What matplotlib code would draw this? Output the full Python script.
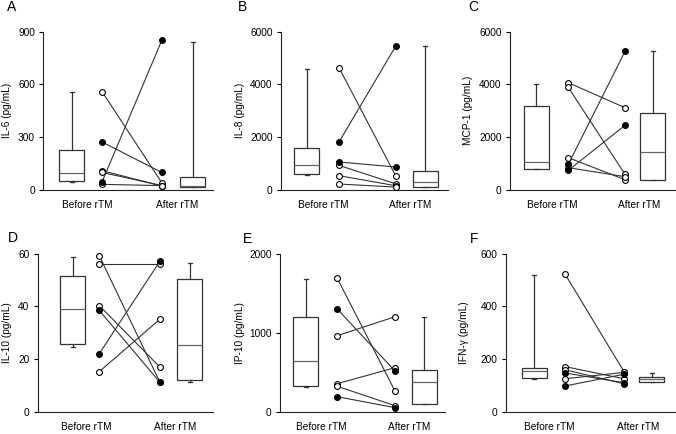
import matplotlib
matplotlib.use("Agg")
import matplotlib.pyplot as plt

plt.rcParams['font.family'] = ['Liberation Sans', 'DejaVu Sans']

# ---------------- data ----------------
panel_letters = ["A", "B", "C", "D", "E", "F"]
ylabels = ["IL-6 (pg/mL)", "IL-8 (pg/mL)", "MCP-1 (pg/mL)",
           "IL-10 (pg/mL)", "IP-10 (pg/mL)", "IFN-γ (pg/mL)"]
group_labels = ["Before rTM", "After rTM"]

yticks_A = [0, 300, 600, 900]
yticks_B = [0, 2000, 4000, 6000]
yticks_C = [0, 2000, 4000, 6000]
yticks_D = [0, 20, 40, 60]
yticks_E = [0, 1000, 2000]
yticks_F = [0, 200, 400, 600]

# paired patient values (before, after) and filled-marker flags
before_A = [560, 273, 110, 100, 45, 32]
after_A = [42, 100, 23, 25, 850, 25]
filled_A = [0, 1, 0, 0, 1, 0]

before_B = [4636, 1819, 1061, 934, 543, 227]
after_B = [518, 5470, 871, 230, 160, 110]
filled_B = [0, 1, 1, 0, 0, 0]

before_C = [4067, 3890, 1225, 973, 846, 745]
after_C = [3120, 593, 392, 5255, 505, 2450]
filled_C = [0, 0, 0, 1, 0, 1]

before_D = [59.2, 56.0, 40.3, 38.5, 22.1, 15.3]
after_D = [11.2, 56.0, 17.0, 11.2, 57.2, 35.2]
filled_D = [0, 0, 0, 1, 1, 0]

before_E = [1689, 1301, 964, 358, 325, 193]
after_E = [265, 518, 1204, 560, 80, 55]
filled_E = [0, 1, 0, 0, 0, 1]

before_F = [523, 172, 160, 148, 126, 98.5]
after_F = [153, 126, 107, 111, 150, 143]
filled_F = [0, 0, 0, 1, 0, 1]

# box summaries: [whisker low, Q1, median, Q3, whisker high]
box_before_A = [47, 51, 99, 228, 556]
box_after_A = [15, 19, 23, 74, 841]
box_before_B = [556, 594, 960, 1579, 4585]
box_after_B = [114, 126, 291, 707, 5457]
box_before_C = [783, 808, 1048, 3170, 4017]
box_after_C = [366, 392, 1453, 2906, 5255]
box_before_D = [24.8, 25.8, 39.0, 51.4, 58.6]
box_after_D = [11.2, 12.2, 25.4, 50.6, 56.6]
box_before_E = [316, 325, 640, 1196, 1676]
box_after_E = [97, 101, 375, 531, 1204]
box_before_F = [125, 127.6, 155, 165.4, 518]
box_after_F = [112.5, 114, 124, 134, 147]

panels = [
    (yticks_A, before_A, after_A, filled_A, box_before_A, box_after_A),
    (yticks_B, before_B, after_B, filled_B, box_before_B, box_after_B),
    (yticks_C, before_C, after_C, filled_C, box_before_C, box_after_C),
    (yticks_D, before_D, after_D, filled_D, box_before_D, box_after_D),
    (yticks_E, before_E, after_E, filled_E, box_before_E, box_after_E),
    (yticks_F, before_F, after_F, filled_F, box_before_F, box_after_F),
]

# ---------------- layout (pixels) ----------------
W, H = 676, 434
# axis x-extent (left, right) in px; baseline y and top y in px
ax_x = [(43.3, 213), (281, 448), (510, 675), (37.7, 213), (280, 445), (506, 675)]
ax_y = [(190, 31.7)] * 3 + [(412, 253.7)] * 3
# element positions relative to axis left (px): box1, before pts, after pts, box2
elem_x = [(28.4, 58.7, 118.4, 149.5),
          (25.7, 58.0, 115.0, 144.3),
          (26.3, 58.3, 115.0, 142.5),
          (34.8, 61.6, 122.3, 152.0),
          (25.8, 57.3, 115.0, 144.2),
          (28.2, 59.0, 118.0, 145.7)]
ylabel_x = [7, 240, 468, 7.3, 240, 464]
letter_xy = [(7, 7), (238, 7), (468, 7), (8, 238), (243, 239), (470, 239)]

LINE = '#333333'
fig = plt.figure(figsize=(W / 100, H / 100), dpi=100)

for i, (yt, bef, aft, fil, bb, ba) in enumerate(panels):
    x0, x1 = ax_x[i]
    yb, ytop = ax_y[i]
    ax = fig.add_axes([x0 / W, 1 - yb / H, (x1 - x0) / W, (yb - ytop) / H])
    ax.set_xlim(0, x1 - x0)
    ax.set_ylim(yt[0], yt[-1])
    p_box1, p_bef, p_aft, p_box2 = elem_x[i]

    stats = []
    for s in (bb, ba):
        stats.append(dict(whislo=s[0], q1=s[1], med=s[2], q3=s[3], whishi=s[4], fliers=[]))
    ax.bxp(stats, positions=[p_box1, p_box2], widths=25, capwidths=4,
           showfliers=False, patch_artist=True,
           boxprops=dict(facecolor='white', edgecolor=LINE, linewidth=0.9),
           medianprops=dict(color='#666666', linewidth=0.9),
           whiskerprops=dict(color=LINE, linewidth=0.9),
           capprops=dict(color=LINE, linewidth=0.9))

    # paired lines: open first, then filled on top
    order = [k for k in range(len(bef)) if not fil[k]] + [k for k in range(len(bef)) if fil[k]]
    for k in order:
        fc = 'black' if fil[k] else 'white'
        ax.plot([p_bef, p_aft], [bef[k], aft[k]], '-', color=LINE, lw=0.8,
                marker='o', ms=4.2, mfc=fc, mec='black', mew=0.8,
                clip_on=False, zorder=3 + fil[k])

    ax.set_yticks(yt)
    ax.set_yticklabels([str(v) for v in yt])
    ax.set_xticks([(p_box1 + p_bef) / 2, (p_aft + p_box2) / 2])
    ax.set_xticklabels(group_labels)
    ax.tick_params(axis='x', length=0, labelsize=7.3, pad=7)
    ax.tick_params(axis='y', length=3, width=0.8, labelsize=7.3, pad=3)
    for sp in ('top', 'right'):
        ax.spines[sp].set_visible(False)
    for sp in ('left', 'bottom'):
        ax.spines[sp].set_linewidth(0.8)
        ax.spines[sp].set_color('#222222')

    fig.text(ylabel_x[i] / W, 1 - ((yb + ytop) / 2) / H, ylabels[i],
             rotation=90, ha='center', va='center', fontsize=7.3)
    lx, ly = letter_xy[i]
    fig.text(lx / W, 1 - ly / H, panel_letters[i], ha='left', va='center', fontsize=10)

fig.savefig('out.png', dpi=100)
